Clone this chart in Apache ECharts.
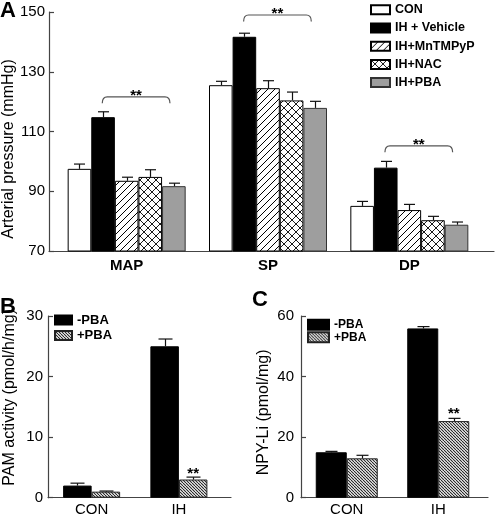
<!DOCTYPE html>
<html><head><meta charset="utf-8">
<script src="https://cdn.jsdelivr.net/npm/echarts@6/dist/echarts.min.js"></script>
<style>html,body{margin:0;padding:0;background:#fff}#c{width:495px;height:515px}</style>
</head><body><div id="c"></div>
<script>
// ---------- Panel A data ----------
const aCategories = ['MAP', 'SP', 'DP'];
const aSeriesNames = ['CON', 'IH + Vehicle', 'IH+MnTMPyP', 'IH+NAC', 'IH+PBA'];
const aCON = [97.5, 125.5, 85.1];
const aCONErr = [1.6, 1.3, 1.5];
const aVehicle = [114.8, 141.7, 97.9];
const aVehicleErr = [1.8, 1.2, 2.1];
const aMnTMPyP = [93.5, 124.5, 83.7];
const aMnTMPyPErr = [1.2, 2.5, 1.9];
const aNAC = [94.8, 120.4, 80.3];
const aNACErr = [2.4, 2.8, 1.3];
const aPBA = [91.7, 117.9, 78.8];
const aPBAErr = [1.0, 2.2, 0.9];
const aTicks = { min: 70, max: 150, interval: 20 };
const aBrackets = [[0, 121.6], [1, 149.0], [2, 105.2]];

// ---------- Panel B data ----------
const bCategories = ['CON', 'IH'];
const bMinusPBA = [2.0, 25.0];
const bMinusPBAErr = [0.4, 1.2];
const bPlusPBA = [1.0, 3.0];
const bPlusPBAErr = [0.1, 0.4];
const bTicks = { min: 0, max: 30, interval: 10 };
const bSig = [[1, 4.0]];

// ---------- Panel C data ----------
const cCategories = ['CON', 'IH'];
const cMinusPBA = [15.0, 55.9];
const cMinusPBAErr = [0.3, 0.6];
const cPlusPBA = [13.0, 25.3];
const cPlusPBAErr = [1.0, 0.9];
const cTicks = { min: 0, max: 60, interval: 20 };
const cSig = [[1, 27.6]];

const FONT = '"Liberation Sans", Arial, Helvetica, sans-serif';

function pattern(size, dirs, color, lw) {
  const c = document.createElement('canvas');
  c.width = c.height = size;
  const g = c.getContext('2d');
  g.fillStyle = '#fff'; g.fillRect(0, 0, size, size);
  g.strokeStyle = color; g.lineWidth = lw;
  for (const d of dirs) {
    for (const k of [-size, 0, size]) {
      g.beginPath();
      if (d === '/') { g.moveTo(k, size); g.lineTo(k + size, 0); }
      else { g.moveTo(k, 0); g.lineTo(k + size, size); }
      g.stroke();
    }
  }
  return { image: c, repeat: 'repeat' };
}
const hatchSlash = pattern(7, ['/'], '#000', 1);
const hatchCross = pattern(8, ['/', '\\'], '#000', 0.9);
const hatchDense = pattern(3, ['\\'], '#222', 1.1);

function buildErr(groups) {
  const out = [];
  groups.forEach((g, s) => g[0].forEach((m, i) => out.push([i, s, m, g[1][i]])));
  return out;
}
function errRenderer(n, bw, cap) {
  return function (params, api) {
    const cat = api.value(0), s = api.value(1), m = api.value(2), e = api.value(3);
    const p0 = api.coord([cat, m]);
    const p1 = api.coord([cat, m + e]);
    const x = Math.round(p0[0] + (s - (n - 1) / 2) * bw) + 0.5;
    const st = { stroke: '#111', lineWidth: 1.2 };
    return { type: 'group', children: [
      { type: 'line', shape: { x1: x, y1: p0[1], x2: x, y2: p1[1] }, style: st },
      { type: 'line', shape: { x1: x - cap / 2, y1: p1[1], x2: x + cap / 2, y2: p1[1] }, style: st }
    ] };
  };
}
function bracketRenderer(x1off, x2off, drop, r) {
  return function (params, api) {
    const p = api.coord([api.value(0), api.value(1)]);
    const xa = p[0] + x1off, xb = p[0] + x2off, y = p[1];
    const d = `M${xa} ${y + drop} Q${xa} ${y} ${xa + r} ${y} L${xb - r} ${y} Q${xb} ${y} ${xb} ${y + drop}`;
    return { type: 'group', children: [
      { type: 'path', shape: { pathData: d }, style: { fill: 'none', stroke: '#555', lineWidth: 1.2 } },
      { type: 'text', style: { text: '**', x: (xa + xb) / 2, y: y - 1, align: 'center', verticalAlign: 'middle', font: 'bold 15px ' + FONT, fill: '#000' } }
    ] };
  };
}
function sigRenderer(xoff) {
  return function (params, api) {
    const p = api.coord([api.value(0), api.value(1)]);
    return { type: 'text', style: { text: '**', x: p[0] + xoff, y: p[1], align: 'center', verticalAlign: 'middle', font: 'bold 15px ' + FONT, fill: '#000' } };
  };
}

const axisLine = { show: true, lineStyle: { color: '#444', width: 1.2 } };
function valueAxis(gi, t, name, gap, pad, fs, margin, offset) {
  return {
    type: 'value', gridIndex: gi, min: t.min, max: t.max, interval: t.interval, offset: offset || 0,
    axisLine: axisLine, axisTick: { show: true, inside: true, length: 5, lineStyle: { color: '#444', width: 1.2 } },
    splitLine: { show: false },
    axisLabel: { fontSize: fs, color: '#000', fontFamily: FONT, margin: margin },
    name: name, nameLocation: 'middle', nameGap: gap, nameRotate: 90, nameMoveOverlap: false,
    nameTextStyle: { fontSize: 16, color: '#000', fontFamily: FONT, padding: pad }
  };
}
function catAxis(gi, data, bold, margin) {
  return {
    type: 'category', gridIndex: gi, data: data,
    axisLine: { show: false }, axisTick: { show: false },
    axisLabel: { fontSize: 15, color: '#000', fontFamily: FONT, fontWeight: bold ? 'bold' : 'normal', margin: margin }
  };
}
function frameX(gi) {
  return { type: 'category', gridIndex: gi, data: [''], axisLine: axisLine, axisTick: { show: false }, axisLabel: { show: false } };
}
function frameY(gi) { return { type: 'value', gridIndex: gi, show: false, min: 0, max: 1 }; }
function grid(o) { return Object.assign({ containLabel: false, outerBoundsMode: 'none' }, o); }

const bwA = 23.6, bwB = 28.5, bwC = 31;
const blackStyle = { color: '#000', borderColor: '#000', borderWidth: 1 };
const plusStyle = { color: hatchDense, borderColor: '#222', borderWidth: 1 };

const option = {
  animation: false,
  backgroundColor: '#fff',
  title: [
    { text: 'A', left: 0, top: 0, padding: 0, textStyle: { fontSize: 22, fontWeight: 'bold', color: '#000', fontFamily: FONT } },
    { text: 'B', left: 0, top: 296, padding: 0, textStyle: { fontSize: 22, fontWeight: 'bold', color: '#000', fontFamily: FONT } },
    { text: 'C', left: 252, top: 289, padding: 0, textStyle: { fontSize: 22, fontWeight: 'bold', color: '#000', fontFamily: FONT } }
  ],
  legend: [
    { data: aSeriesNames, orient: 'vertical', left: 370, top: 2.8, padding: 0, icon: 'rect',
      itemWidth: 19, itemHeight: 9, itemGap: 4.2,
      textStyle: { fontSize: 12.5, fontWeight: 'bold', color: '#000', fontFamily: FONT, lineHeight: 14 } },
    { data: ['-PBA', '+PBA'], orient: 'vertical', left: 54, top: 313.5, padding: 0, icon: 'rect',
      itemWidth: 17, itemHeight: 9, itemGap: 2.5,
      textStyle: { fontSize: 13, fontWeight: 'bold', color: '#000', fontFamily: FONT, lineHeight: 13 } },
    { data: ['-PBA', '+PBA'], orient: 'vertical', left: 307, top: 318.8, padding: 0, icon: 'rect',
      itemWidth: 21, itemHeight: 10, itemGap: 0.4,
      textStyle: { fontSize: 12, fontWeight: 'bold', color: '#000', fontFamily: FONT, lineHeight: 11 } }
  ],
  grid: [
    grid({ left: 56, right: 15, top: 12, bottom: 264 }),
    grid({ left: 48, width: 174.5, top: 316, bottom: 17.3 }),
    grid({ left: 301, right: 11, top: 316, bottom: 17.3 }),
    grid({ left: 49, right: 1, top: 12, bottom: 264 }),
    grid({ left: 48, right: 264, top: 316, bottom: 17.3 }),
    grid({ left: 301, right: 7, top: 316, bottom: 17.3 })
  ],
  xAxis: [
    catAxis(0, aCategories, true, 7),
    catAxis(1, bCategories, false, 4.5),
    catAxis(2, cCategories, false, 4.5),
    frameX(3), frameX(4), frameX(5)
  ],
  yAxis: [
    valueAxis(0, aTicks, 'Arterial pressure (mmHg)', 32, [0, 35, 0, 0], 15, 4, 7),
    valueAxis(1, bTicks, 'PAM activity (pmol/h/mg)', 30, [0, 0, 0, 19], 15, 5, 0),
    valueAxis(2, cTicks, 'NPY-Li (pmol/mg)', 29, [0, 11, 0, 0], 15, 7, 0),
    frameY(3), frameY(4), frameY(5)
  ],
  series: [
    { name: aSeriesNames[0], type: 'bar', xAxisIndex: 0, yAxisIndex: 0, barWidth: bwA, barGap: '0%', data: aCON,
      itemStyle: { color: '#fff', borderColor: '#000', borderWidth: 1 } },
    { name: aSeriesNames[1], type: 'bar', xAxisIndex: 0, yAxisIndex: 0, barWidth: bwA, barGap: '0%', data: aVehicle,
      itemStyle: blackStyle },
    { name: aSeriesNames[2], type: 'bar', xAxisIndex: 0, yAxisIndex: 0, barWidth: bwA, barGap: '0%', data: aMnTMPyP,
      itemStyle: { color: hatchSlash, borderColor: '#000', borderWidth: 1 } },
    { name: aSeriesNames[3], type: 'bar', xAxisIndex: 0, yAxisIndex: 0, barWidth: bwA, barGap: '0%', data: aNAC,
      itemStyle: { color: hatchCross, borderColor: '#000', borderWidth: 1 } },
    { name: aSeriesNames[4], type: 'bar', xAxisIndex: 0, yAxisIndex: 0, barWidth: bwA, barGap: '0%', data: aPBA,
      itemStyle: { color: '#9e9e9e', borderColor: '#333', borderWidth: 1 } },
    { type: 'custom', xAxisIndex: 0, yAxisIndex: 0, z: 5, encode: { x: 0, y: 2 }, silent: true,
      data: buildErr([[aCON, aCONErr], [aVehicle, aVehicleErr], [aMnTMPyP, aMnTMPyPErr], [aNAC, aNACErr], [aPBA, aPBAErr]]),
      renderItem: errRenderer(5, bwA, 11) },
    { type: 'custom', xAxisIndex: 0, yAxisIndex: 0, z: 5, encode: { x: 0, y: 1 }, silent: true,
      data: aBrackets, renderItem: bracketRenderer(-24.4, 43.3, 6.5, 5) },

    { name: '-PBA', type: 'bar', xAxisIndex: 1, yAxisIndex: 1, barWidth: bwB, barGap: '0%', data: bMinusPBA, itemStyle: blackStyle },
    { name: '+PBA', type: 'bar', xAxisIndex: 1, yAxisIndex: 1, barWidth: bwB, barGap: '0%', data: bPlusPBA, itemStyle: plusStyle },
    { type: 'custom', xAxisIndex: 1, yAxisIndex: 1, z: 5, encode: { x: 0, y: 2 }, silent: true,
      data: buildErr([[bMinusPBA, bMinusPBAErr], [bPlusPBA, bPlusPBAErr]]), renderItem: errRenderer(2, bwB, 14) },
    { type: 'custom', xAxisIndex: 1, yAxisIndex: 1, z: 5, encode: { x: 0, y: 1 }, silent: true,
      data: bSig, renderItem: sigRenderer(bwB / 2) },

    { name: '-PBA', type: 'bar', xAxisIndex: 2, yAxisIndex: 2, barWidth: bwC, barGap: '0%', data: cMinusPBA, itemStyle: blackStyle },
    { name: '+PBA', type: 'bar', xAxisIndex: 2, yAxisIndex: 2, barWidth: bwC, barGap: '0%', data: cPlusPBA, itemStyle: plusStyle },
    { type: 'custom', xAxisIndex: 2, yAxisIndex: 2, z: 5, encode: { x: 0, y: 2 }, silent: true,
      data: buildErr([[cMinusPBA, cMinusPBAErr], [cPlusPBA, cPlusPBAErr]]), renderItem: errRenderer(2, bwC, 12) },
    { type: 'custom', xAxisIndex: 2, yAxisIndex: 2, z: 5, encode: { x: 0, y: 1 }, silent: true,
      data: cSig, renderItem: sigRenderer(bwC / 2) }
  ]
};
const chart = echarts.init(document.getElementById('c'), null, { renderer: 'canvas' });
chart.setOption(option);
</script>
</body></html>
